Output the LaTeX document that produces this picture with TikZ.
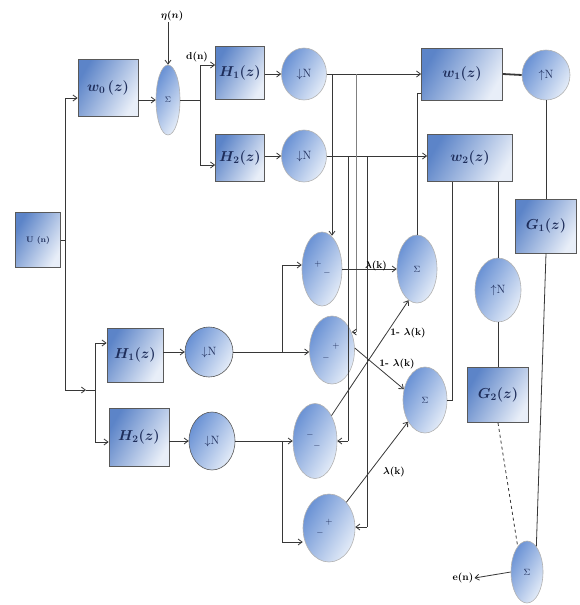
\documentclass[tikz,border=0pt]{standalone}
\usepackage{bm}
\usetikzlibrary{arrows.meta,shapes.geometric,calc}
\definecolor{bxA}{RGB}{92,132,200}
\definecolor{bxB}{RGB}{232,238,248}
\definecolor{elA}{RGB}{105,145,212}
\definecolor{elB}{RGB}{228,236,248}
\definecolor{txt}{RGB}{30,45,90}
\definecolor{ln}{RGB}{55,55,55}
\begin{document}
\begin{tikzpicture}[x=1pt,y=-1pt,
  >={Straight Barb[length=4pt,width=6pt]},
  sz/.style 2 args={minimum width=#1,minimum height=#2},
  box/.style={rectangle,draw=black!65,line width=0.8pt,left color=bxA,right color=bxB,shading angle=60,inner sep=0pt,text=txt,font=\Large},
  ell/.style={ellipse,draw=black!30,line width=0.6pt,left color=elA,right color=elB,shading angle=60,inner sep=0pt,text=txt,font=\large},
  wire/.style={draw=ln,line width=0.8pt},
  lbl/.style={text=black,font=\normalsize\bfseries,inner sep=1pt},
  sgn/.style={font=\small\bfseries,text=txt,inner sep=0pt}]
\useasboundingbox (0,0) rectangle (579,605);

% ---- nodes ----
\node[box,sz={45pt}{55pt},font=\footnotesize\bfseries] (U) at (38,240) {U (n)};
\node[box,sz={60pt}{57pt}] (w0) at (108,88) {$\bm{w_0\,(z)}$};
\node[ell,sz={24pt}{70pt},font=\footnotesize] (S0) at (168,100) {$\Sigma$};
\node[box,sz={49pt}{53pt}] (H1t) at (240,73) {$\bm{H_1(z)}$};
\node[box,sz={49pt}{47pt}] (H2t) at (240,158) {$\bm{H_2(z)}$};
\node[ell,sz={45pt}{52pt}] (D1t) at (304,74) {$\downarrow$N};
\node[ell,sz={45pt}{52pt}] (D2t) at (304,156) {$\downarrow$N};
\node[box,sz={81pt}{52pt}] (W1) at (462,74) {$\bm{w_1(z)}$};
\node[ell,sz={48pt}{50pt}] (U1) at (546,75) {$\uparrow$N};
\node[box,sz={85pt}{47pt}] (W2) at (470,158) {$\bm{w_2(z)}$};
\node[box,sz={61pt}{54pt}] (G1) at (546,226) {$\bm{G_1(z)}$};
\node[ell,sz={46pt}{64pt}] (U2) at (498,290) {$\uparrow$N};
\node[box,sz={61pt}{55pt}] (G2) at (498,395) {$\bm{G_2(z)}$};
\node[ell,sz={32pt}{62pt},font=\small] (S3) at (527,572) {$\Sigma$};
\node[lbl] (en) at (463,578) {e(n)};

\node[box,sz={56pt}{54pt}] (H1b) at (135,355) {$\bm{H_1(z)}$};
\node[ell,draw=black!65,sz={48pt}{50pt}] (D1b) at (209,352) {$\downarrow$N};
\node[box,sz={60pt}{58pt}] (H2b) at (139,437) {$\bm{H_2(z)}$};
\node[ell,draw=black!65,sz={46pt}{58pt}] (D2b) at (212,441) {$\downarrow$N};

\node[ell,sz={40pt}{74pt}] (E1) at (322,269) {};
\node[ell,sz={45pt}{68pt}] (E2) at (332,350) {};
\node[ell,sz={44pt}{75pt}] (E3) at (315,441) {};
\node[ell,sz={52pt}{68pt}] (E4) at (329,528) {};
\node[ell,sz={40pt}{68pt},font=\small] (S1) at (417,269) {$\Sigma$};
\node[ell,sz={44pt}{66pt},font=\small] (S2) at (425,400) {$\Sigma$};

\node[sgn] at ([xshift=-4pt,yshift=5pt]E1.center) {$+$};
\node[sgn] at ([xshift=5pt,yshift=-4pt]E1.center) {$-$};
\node[sgn] at ([xshift=4pt,yshift=4pt]E2.center) {$+$};
\node[sgn] at ([xshift=-6pt,yshift=-8pt]E2.center) {$-$};
\node[sgn] at ([xshift=-5pt,yshift=6pt]E3.center) {$-$};
\node[sgn] at ([xshift=2pt,yshift=-5pt]E3.center) {$-$};
\node[sgn] at ([xshift=0pt,yshift=6pt]E4.center) {$+$};
\node[sgn] at ([xshift=-9pt,yshift=-5pt]E4.center) {$-$};

% ---- left input bus ----
\coordinate (bT) at (65,98);
\coordinate (bU) at (65,240);
\coordinate (bB) at (65,390);
\coordinate (bM) at (86,390);
\coordinate (bR) at (95,390);
\coordinate (bRT) at (95,343);
\coordinate (bRB) at (95,442);
\draw[wire] (U.east) -- (bU);
\draw[wire] (bT) -- (bB);
\draw[wire,->] (bT) -- (bT -| w0.west);
\draw[wire,->] (bB) -- (bM);
\draw[wire] (bM) -- (bR);
\draw[wire] (bRT) -- (bRB);
\draw[wire,->] (bRT) -- (bRT -| H1b.west);
\draw[wire,->] (bRB) -- (bRB -| H2b.west);

% ---- top chain ----
\draw[wire,->] (w0.east |- S0.west) -- (S0.west);
\node[lbl] (eta) at (172,16) {$\bm{\eta(n)}$};
\draw[wire,->] (eta.south -| S0.north) -- (S0.north);
\coordinate (sp) at (200,100);
\coordinate (spT) at (200,65);
\coordinate (spB) at (200,165);
\draw[wire] (S0.east) -- (sp);
\draw[wire] (spT) -- (spB);
\draw[wire,->] (spT) -- (spT -| H1t.west);
\draw[wire,->] (spB) -- (spB -| H2t.west);
\node[lbl] (dn) at (197,57) {d(n)};
\draw[wire,->] (H1t.east |- D1t.west) -- (D1t.west);
\draw[wire,->] (H2t.east |- D2t.west) -- (D2t.west);
\draw[wire,->] (D1t.east) -- (D1t.east -| W1.west);
\draw[wire,->] (D2t.east) -- (D2t.east -| W2.west);

% ---- taps down to the comparators ----
\coordinate (t1) at (332,74);
\draw[wire,->] (t1) -- ($(t1 |- E1.north)+(0,4)$);
\coordinate (t2) at (356,74);
\coordinate (t2b) at (356,332);
\draw[wire,draw=gray] (t2) -- (t2b);
\draw[wire,->] (t2b) -- ($(t2b -| E2.east)+(-3,0)$);
\coordinate (t3) at (348,156);
\coordinate (t3b) at (348,441);
\draw[wire] (t3) -- (t3b);
\draw[wire,->] (t3b) -- (t3b -| E3.east);
\coordinate (t4) at (367,156);
\coordinate (t4b) at (367,527);
\draw[wire] (t4) -- (t4b);
\draw[wire,->] (t4b) -- (t4b -| E4.east);

% ---- bottom branches ----
\draw[wire,->] (H1b.east |- D1b.west) -- (D1b.west);
\draw[wire,->] (H2b.east |- D2b.west) -- (D2b.west);
\coordinate (q1) at (282,352);
\coordinate (q1t) at (282,265);
\draw[wire] (D1b.east) -- (q1);
\draw[wire,->] (q1) -- (q1 -| E2.west);
\draw[wire] (q1) -- (q1t);
\draw[wire,->] (q1t) -- (q1t -| E1.west);
\coordinate (q2) at (282,441);
\coordinate (q2b) at (282,542);
\draw[wire] (D2b.east) -- (q2);
\draw[wire,->] (q2) -- (q2 -| E3.west);
\draw[wire] (q2) -- (q2b);
\draw[wire,->] (q2b) -- (q2b -| E4.west);

% ---- weighting into the sums ----
\draw[wire,->] (E1.east) -- (S1.west);
\node[lbl] (l1) at (376,266) {$\bm{\lambda}$(k)};
\draw[wire,->] (E3.57) -- (S1.255);
\node[lbl] (l2) at (408,333) {1- $\bm{\lambda}$(k)};
\draw[wire,->] (E2.5) -- (S2.153);
\node[lbl] (l3) at (397,364) {1- $\bm{\lambda}$(k)};
\draw[wire,->] (E4.56) -- (S2.232);
\node[lbl] (l4) at (394,472) {$\bm{\lambda}$(k)};

% ---- right side ----
\coordinate (s1u) at (417,93);
\draw[wire] (S1.north) -- (s1u) -- (s1u -| W1.west);
\coordinate (s2r) at (452,400);
\draw[wire] (S2.east) -- (s2r) -- (s2r |- W2.south);
\draw[wire] (U2.north |- W2.south) -- (U2.north);
\draw[wire] (U2.south) -- (G2.north);
\draw[wire,line width=1.8pt] (W1.east) -- (U1.west);
\draw[wire] (U1.south) -- (G1.north);
\draw[wire] (G1.south) -- (S3.70);
\draw[wire,dashed] (G2.south) -- (S3.110);
\draw[wire,->] (S3.west) -- (en.east);
\end{tikzpicture}
\end{document}
